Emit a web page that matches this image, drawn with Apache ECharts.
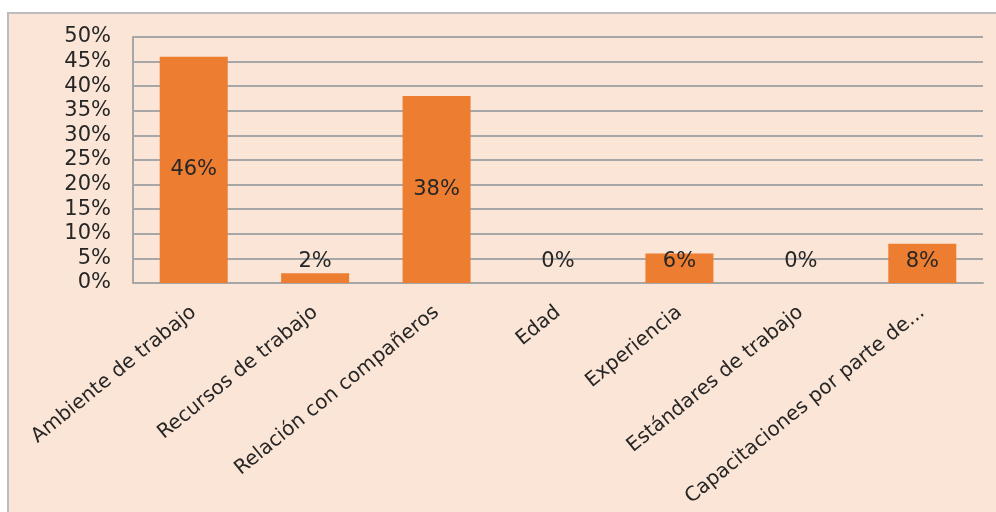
<!DOCTYPE html>
<html>
<head>
<meta charset="utf-8">
<script src="https://cdn.jsdelivr.net/npm/echarts@6/dist/echarts.min.js"></script>
<style>
  html, body { margin: 0; padding: 0; background: #ffffff; }
  #chart { width: 996px; height: 512px; }
</style>
</head>
<body>
<div id="chart"></div>
<script>
// Factores evaluados
const categories = [
  'Ambiente de trabajo',
  'Recursos de trabajo',
  'Relación con compañeros',
  'Edad',
  'Experiencia',
  'Estándares de trabajo',
  'Capacitaciones por parte de...'
];
// Porcentaje de respuestas por factor
const values = [46, 2, 38, 0, 6, 0, 8];
// Marcas del eje vertical
const yTicks = [0, 5, 10, 15, 20, 25, 30, 35, 40, 45, 50];

const FONT = 'DejaVu Sans, Verdana, sans-serif';
const TEXT = '#262626';
const SIZE = 20;

const chart = echarts.init(document.getElementById('chart'), null, { renderer: 'canvas' });

const seriesData = values.map(v => ({
  value: v,
  label: v >= 15
    ? { position: 'inside' }
    : { position: 'insideBottom', distance: 11 }
}));

chart.setOption({
  animation: false,
  backgroundColor: '#ffffff',
  graphic: [{
    type: 'rect',
    z: -10,
    silent: true,
    shape: { x: 8, y: 13, width: 1000, height: 510 },
    style: { fill: '#fbe5d6', stroke: '#bdbdbd', lineWidth: 2 }
  }],
  grid: {
    left: 133, right: 13, top: 37, bottom: 229,
    containLabel: false,
    outerBoundsMode: 'none'
  },
  xAxis: {
    type: 'category',
    data: categories,
    axisLine: { show: true, lineStyle: { color: '#a6a6a6', width: 2 } },
    axisTick: { show: false },
    axisLabel: {
      rotate: 39,
      interval: 0,
      margin: 27,
      fontFamily: FONT,
      fontSize: SIZE,
      color: TEXT
    }
  },
  yAxis: {
    type: 'value',
    min: yTicks[0],
    max: yTicks[yTicks.length - 1],
    interval: yTicks[1] - yTicks[0],
    axisLine: { show: true, lineStyle: { color: '#a6a6a6', width: 2 } },
    axisTick: { show: false },
    splitLine: { lineStyle: { color: '#a6a6a6', width: 2 } },
    axisLabel: {
      margin: 22,
      fontFamily: FONT,
      fontSize: 21,
      color: TEXT,
      formatter: v => v + '%'
    }
  },
  series: [{
    type: 'bar',
    data: seriesData,
    barWidth: '56%',
    itemStyle: { color: '#ed7d31' },
    label: {
      show: true,
      formatter: p => p.value + '%',
      fontFamily: FONT,
      fontSize: 21,
      color: TEXT
    }
  }]
});
</script>
</body>
</html>
